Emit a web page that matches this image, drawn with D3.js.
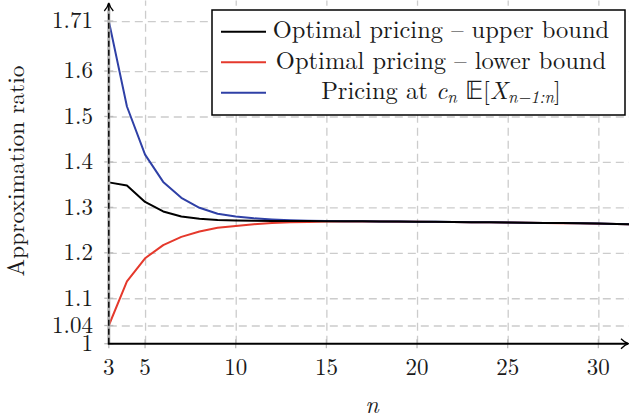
<!DOCTYPE html>
<html>
<head>
<meta charset="utf-8">
<script src="https://cdn.jsdelivr.net/npm/d3@7"></script>
<style>
    body { margin: 0; background: #fff; }
    svg { display: block; }
</style>
</head>
<body>
<svg id="chart"></svg>
<script>
//Values, one entry per n
const nValues = [3, 4, 5, 6, 7, 8, 9, 10, 11, 12, 13, 14, 15, 16, 17, 18, 19, 20,
    21, 22, 23, 24, 25, 26, 27, 28, 29, 30, 31, 32];

const upperBound = [1.355, 1.348, 1.312, 1.291, 1.280, 1.275, 1.272, 1.271, 1.2705, 1.2702,
    1.2700, 1.2699, 1.2697, 1.2695, 1.2692, 1.2690, 1.2687, 1.2684, 1.2681, 1.2678,
    1.2675, 1.2671, 1.2666, 1.2662, 1.2658, 1.2654, 1.2649, 1.2643, 1.2635, 1.2627];

const lowerBound = [1.040, 1.137, 1.188, 1.217, 1.235, 1.247, 1.255, 1.259, 1.263, 1.2655,
    1.2670, 1.2680, 1.2688, 1.2690, 1.2689, 1.2688, 1.2686, 1.2683, 1.2680, 1.2677,
    1.2674, 1.2670, 1.2665, 1.2661, 1.2657, 1.2653, 1.2648, 1.2642, 1.2634, 1.2626];

const pricingCn = [1.710, 1.522, 1.416, 1.356, 1.321, 1.299, 1.286, 1.280, 1.276, 1.2735,
    1.2718, 1.2708, 1.2702, 1.2697, 1.2693, 1.2690, 1.2687, 1.2684, 1.2681, 1.2678,
    1.2675, 1.2671, 1.2666, 1.2662, 1.2658, 1.2654, 1.2649, 1.2643, 1.2635, 1.2627];

const xTicks = [3, 5, 10, 15, 20, 25, 30];
const yTicks = [1, 1.04, 1.1, 1.2, 1.3, 1.4, 1.5, 1.6, 1.71];

const seriesNames = ["Optimal pricing \u2013 upper bound", "Optimal pricing \u2013 lower bound", "Pricing at"];

//Draw the whole chart
function createLineChart(className, svgWidth, svgHeight) {
    let svg = d3.select(className)
        .attr("width", svgWidth)
        .attr("height", svgHeight);

    //LaTeX look: one family only, fallbacks misbehave here
    let font = "\"Latin Modern Roman\"";
    let gridColor = "#cccccc";
    let textColor = "#1a1a1a";

    //plot frame in pixels
    let left = 108.8, right = 629, top = 0.6, bottom = 343.7;

    let xScale = d3.scaleLinear()
        .domain([3, 31.69])
        .range([left, right]);

    let yScale = d3.scaleLinear()
        .domain([1, 1.755])
        .range([bottom, top]);

    //horizontal grid (dashed)
    let yGrid = svg.append("g")
        .attr("transform", `translate(${left},0)`)
        .call(d3.axisLeft(yScale).tickValues(yTicks.filter(d => d > 1)).tickSize(-(right - left)).tickFormat(""));
    yGrid.select(".domain").remove();
    yGrid.selectAll(".tick line")
        .attr("stroke", gridColor)
        .attr("stroke-width", 1.3)
        .attr("stroke-dasharray", "8,5");

    //vertical grid (dashed)
    let xGrid = svg.append("g")
        .attr("transform", `translate(0,${bottom})`)
        .call(d3.axisBottom(xScale).tickValues(xTicks.filter(d => d > 3)).tickSize(-(bottom - top)).tickFormat(""));
    xGrid.select(".domain").remove();
    xGrid.selectAll(".tick line")
        .attr("stroke", gridColor)
        .attr("stroke-width", 1.3)
        .attr("stroke-dasharray", "8,5");

    //small solid tick marks across the axes
    svg.append("g")
        .selectAll("line")
        .data(yTicks)
        .join("line")
        .attr("x1", left - 4.5)
        .attr("x2", left + 4.5)
        .attr("y1", d => yScale(d))
        .attr("y2", d => yScale(d))
        .attr("stroke", "#bbbbbb")
        .attr("stroke-width", 1.3);

    svg.append("g")
        .selectAll("line")
        .data(xTicks)
        .join("line")
        .attr("x1", d => xScale(d))
        .attr("x2", d => xScale(d))
        .attr("y1", bottom - 4.5)
        .attr("y2", bottom + 4.5)
        .attr("stroke", "#bbbbbb")
        .attr("stroke-width", 1.3);

    //tick labels
    svg.append("g")
        .selectAll("text")
        .data(yTicks)
        .join("text")
        .attr("x", 93)
        .attr("y", d => yScale(d))
        .attr("dy", "0.32em")
        .attr("text-anchor", "end")
        .style("font-family", font)
        .style("font-size", "23px")
        .attr("fill", textColor)
        .text(d => d3.format("")(d));

    svg.append("g")
        .selectAll("text")
        .data(xTicks)
        .join("text")
        .attr("x", d => xScale(d))
        .attr("y", 375)
        .attr("text-anchor", "middle")
        .style("font-family", font)
        .style("font-size", "23px")
        .attr("fill", textColor)
        .text(d => d);

    //curves, clipped to the plot area
    svg.append("clipPath")
        .attr("id", "plotClip")
        .append("rect")
        .attr("x", left)
        .attr("y", 0)
        .attr("width", right - left)
        .attr("height", bottom);

    let line = d3.line()
        .x(d => xScale(d[0]))
        .y(d => yScale(d[1]));

    let series = [
        { values: lowerBound, color: "#e5392c" },
        { values: pricingCn, color: "#2f40a6" },
        { values: upperBound, color: "#000000" }
    ];

    svg.append("g")
        .attr("clip-path", "url(#plotClip)")
        .selectAll("path")
        .data(series)
        .join("path")
        .attr("d", s => line(nValues.map((n, i) => [n, s.values[i]])))
        .attr("fill", "none")
        .attr("stroke", s => s.color)
        .attr("stroke-width", 2)
        .attr("stroke-linejoin", "round");

    //y axis: grey band under a black dashed line, arrow on top
    svg.append("line")
        .attr("x1", left).attr("x2", left)
        .attr("y1", bottom).attr("y2", top + 3)
        .attr("stroke", "#b0b0b0")
        .attr("stroke-width", 3);
    svg.append("line")
        .attr("x1", left).attr("x2", left)
        .attr("y1", bottom).attr("y2", 4)
        .attr("stroke", "#000")
        .attr("stroke-width", 1.4)
        .attr("stroke-dasharray", "6,3");
    svg.append("path")
        .attr("d", `M${left - 4.5},${11} Q${left - 1},${7} ${left},${3} Q${left + 1},${7} ${left + 4.5},${11}`)
        .attr("fill", "none")
        .attr("stroke", "#000")
        .attr("stroke-width", 1.3);

    //x axis with arrow at the right
    svg.append("line")
        .attr("x1", left - 1).attr("x2", right - 1)
        .attr("y1", bottom).attr("y2", bottom)
        .attr("stroke", "#000")
        .attr("stroke-width", 2);
    svg.append("path")
        .attr("d", `M${right - 8},${bottom - 5} Q${right - 4},${bottom - 1} ${right - 0.5},${bottom} Q${right - 4},${bottom + 1} ${right - 8},${bottom + 5}`)
        .attr("fill", "none")
        .attr("stroke", "#000")
        .attr("stroke-width", 1.3);

    //axis titles
    svg.append("text")
        .attr("transform", "translate(24,171) rotate(-90)")
        .attr("text-anchor", "middle")
        .style("font-family", font)
        .style("font-size", "23.5px")
        .attr("fill", textColor)
        .text("Approximation ratio");

    svg.append("text")
        .attr("x", 372)
        .attr("y", 413)
        .attr("text-anchor", "middle")
        .style("font-family", font)
        .style("font-style", "italic")
        .style("font-size", "24px")
        .attr("fill", textColor)
        .text("n");

    //legend box
    let legend = svg.append("g");
    legend.append("rect")
        .attr("x", 212)
        .attr("y", 10)
        .attr("width", 413)
        .attr("height", 105)
        .attr("fill", "#fff")
        .attr("stroke", "#000")
        .attr("stroke-width", 1.5);

    let legendColors = ["#000000", "#e5392c", "#2f40a6"];
    let rowY = [31.7, 62.2, 92.7];

    legend.selectAll("line")
        .data(legendColors)
        .join("line")
        .attr("x1", 221)
        .attr("x2", 266)
        .attr("y1", (d, i) => rowY[i])
        .attr("y2", (d, i) => rowY[i])
        .attr("stroke", d => d)
        .attr("stroke-width", 2);

    let labels = legend.selectAll("text.label")
        .data(seriesNames)
        .join("text")
        .attr("class", "label")
        .attr("x", 441)
        .attr("y", (d, i) => rowY[i] + 6.5)
        .attr("text-anchor", "middle")
        .style("font-family", font)
        .style("font-size", "24.5px")
        .attr("fill", textColor);

    labels.each(function (d, i) {
        let t = d3.select(this);
        t.append("tspan").text(d);
        if (i === 2) {
            //c_n E[X_{n-1:n}]
            t.append("tspan").text(" ");
            t.append("tspan").style("font-style", "italic").text("c");
            t.append("tspan").style("font-style", "italic").style("font-size", "17px").attr("dy", 4).text("n");
            t.append("tspan").attr("dy", -4).text(" ");
            t.append("tspan").text("\u{1D53C}");
            t.append("tspan").text("[");
            t.append("tspan").style("font-style", "italic").text("X");
            t.append("tspan").style("font-style", "italic").style("font-size", "17px").attr("dy", 4).text("n\u22121:n");
            t.append("tspan").attr("dy", -4).text("]");
        }
    });
}

createLineChart("#chart", 629, 419);
</script>
</body>
</html>
